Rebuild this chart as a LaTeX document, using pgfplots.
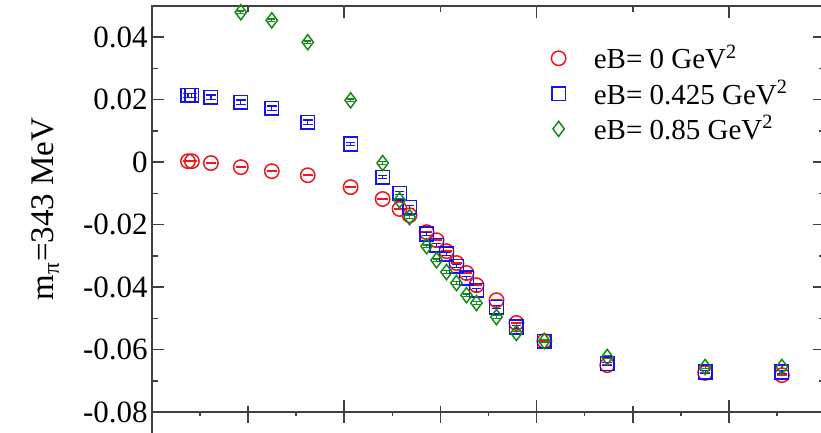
\documentclass[border=0pt]{standalone}
\usepackage{fontspec}
\setmainfont{Liberation Serif}
\usepackage{pgfplots}
\usepackage{pgfplotstable}
\pgfplotsset{compat=1.18}
\definecolor{cR}{RGB}{240,20,30}
\definecolor{cB}{RGB}{20,20,235}
\definecolor{cG}{RGB}{20,140,20}

\pgfplotstableread{
x y e
0.374 0.0003 0.0002
0.415 0.0003 0.0002
0.613 -0.0003 0.0002
0.924 -0.0016 0.0002
1.246 -0.0029 0.0002
1.620 -0.0042 0.0002
2.066 -0.0080 0.0002
2.399 -0.0118 0.0002
2.575 -0.0150 0.0002
2.679 -0.0170 0.0002
2.856 -0.0224 0.0002
2.960 -0.0250 0.0002
3.063 -0.0285 0.0002
3.167 -0.0323 0.0002
3.271 -0.0355 0.0002
3.375 -0.0394 0.0002
3.583 -0.0442 0.0002
3.790 -0.0515 0.0002
4.081 -0.0573 0.0002
4.735 -0.0650 0.0002
5.753 -0.0675 0.0002
6.552 -0.0682 0.0002
}\redtab

\pgfplotstableread{
x y e
0.374 0.0214 0.0007
0.415 0.0214 0.0007
0.613 0.0208 0.0007
0.924 0.0192 0.0007
1.246 0.0173 0.0007
1.620 0.0128 0.0007
2.066 0.0058 0.0005
2.399 -0.0048 0.0005
2.575 -0.0099 0.0005
2.679 -0.0144 0.0005
2.856 -0.0230 0.0005
2.960 -0.0266 0.0005
3.063 -0.0294 0.0005
3.167 -0.0333 0.0005
3.271 -0.0371 0.0005
3.375 -0.0410 0.0005
3.583 -0.0464 0.0005
3.790 -0.0528 0.0005
4.081 -0.0573 0.0005
4.735 -0.0646 0.0005
5.753 -0.0672 0.0005
6.552 -0.0672 0.0005
}\bluetab

\pgfplotstableread{
x y e
0.924 0.0480 0.0004
1.246 0.0454 0.0004
1.620 0.0384 0.0004
2.066 0.0198 0.0004
2.399 -0.0003 0.0004
2.575 -0.0122 0.0004
2.679 -0.0176 0.0004
2.856 -0.0269 0.0004
2.960 -0.0314 0.0004
3.063 -0.0352 0.0004
3.167 -0.0387 0.0004
3.271 -0.0426 0.0004
3.375 -0.0451 0.0004
3.583 -0.0496 0.0004
3.790 -0.0547 0.0004
4.081 -0.0573 0.0004
4.735 -0.0624 0.0004
5.753 -0.0656 0.0004
6.552 -0.0656 0.0004
}\greentab

\begin{document}
\begin{tikzpicture}
\path[use as bounding box, clip] (0,0) rectangle (410.5pt,216.5pt);
% panel below (only its top edge is visible)
\begin{axis}[
  scale only axis,
  width=336.5pt, height=100pt,
  at={(76pt,10.5pt)}, anchor=north west,
  xmin=0, xmax=7, ymin=0, ymax=1,
  xtick={1,2,3,4,5,6,7},
  minor xtick={0.5,1.5,2.5,3.5,4.5,5.5,6.5},
  xticklabels={}, ytick=\empty,
  tick align=inside,
  major tick length=5.5pt, minor tick length=2.2pt,
  axis line style={line width=0.8pt, black!75},
  every tick/.style={line width=0.8pt, black!75},
]
\end{axis}
\begin{axis}[
  scale only axis,
  width=336.5pt, height=203pt,
  at={(76pt,10.5pt)}, anchor=south west,
  xmin=0, xmax=7, ymin=-0.08, ymax=0.05,
  xtick={2,4,6}, minor xtick={1,3,5,7},
  xticklabels={},
  ytick={-0.08,-0.06,-0.04,-0.02,0,0.02,0.04},
  yticklabels={-0.08,-0.06,-0.04,-0.02,0,0.02,0.04},
  minor ytick={-0.07,-0.05,-0.03,-0.01,0.01,0.03},
  tick align=inside,
  major tick length=5.8pt, minor tick length=3pt,
  axis line style={line width=0.8pt, black!75},
  every tick/.style={line width=0.8pt, black!75},
  yticklabel style={font=\fontsize{15.5}{18}\selectfont, inner sep=2pt},
  ylabel={m\textsubscript{π}=343 MeV},
  ylabel style={font=\fontsize{16.5}{19}\selectfont, at={(axis description cs:-0.146,0.5)}, anchor=base},
  legend style={draw=none, fill=none, at={(0.584,0.925)}, anchor=north west,
    font=\fontsize{14.5}{17}\selectfont, row sep=0.2pt,
    /tikz/every odd column/.append style={column sep=12pt}},
  legend cell align=left,
]
\addplot[only marks, mark=o, mark size=3.6pt, color=cR, line width=0.75pt,
  error bars/.cd, y dir=both, y explicit,
  error mark=|, error mark options={mark size=2.6pt, line width=0.6pt, cR},
  error bar style={line width=0.6pt, cR}]
  table[x=x, y=y, y error=e] {\redtab};
\addlegendentry{eB= 0 GeV\textsuperscript{2}}
\addplot[only marks, mark=square, mark size=3.4pt, color=cB, line width=0.75pt,
  error bars/.cd, y dir=both, y explicit,
  error mark=|, error mark options={mark size=2.4pt, line width=0.6pt, cB},
  error bar style={line width=0.6pt, cB}]
  table[x=x, y=y, y error=e] {\bluetab};
\addlegendentry{eB= 0.425 GeV\textsuperscript{2}}
\addplot[only marks, mark=diamond, mark size=3.8pt, color=cG, line width=0.75pt,
  error bars/.cd, y dir=both, y explicit,
  error mark=|, error mark options={mark size=1.8pt, line width=0.6pt, cG},
  error bar style={line width=0.6pt, cG}]
  table[x=x, y=y, y error=e] {\greentab};
\addlegendentry{eB= 0.85 GeV\textsuperscript{2}}
\end{axis}
\end{tikzpicture}
\end{document}
